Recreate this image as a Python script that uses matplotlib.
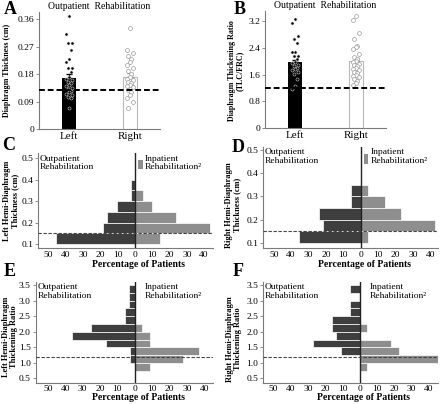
import numpy as np
import matplotlib
matplotlib.use("Agg")
import matplotlib.pyplot as plt
from matplotlib.patches import Rectangle

plt.rcParams['font.family'] = ['Liberation Serif', 'DejaVu Serif']

# ---- panel A / B: bar + points (outpatient) ----
sides = ["Left", "Right"]

a_left_pts = [0.37, 0.31, 0.28, 0.28, 0.26, 0.23, 0.22, 0.20, 0.20, 0.185,
              0.17, 0.165, 0.16, 0.155, 0.15, 0.145, 0.14, 0.135, 0.13, 0.125,
              0.12, 0.115, 0.11, 0.105, 0.10, 0.07]
a_right_pts = [0.33, 0.26, 0.25, 0.24, 0.23, 0.22, 0.21, 0.20, 0.19, 0.18,
               0.17, 0.165, 0.16, 0.155, 0.15, 0.145, 0.14, 0.138, 0.128, 0.12,
               0.11, 0.103, 0.09, 0.07]
a_means = [0.167, 0.170]
a_sem = [0.012, 0.012]
a_cutoff = 0.128

b_left_pts = [3.24, 3.14, 2.75, 2.65, 2.55, 2.26, 2.26, 2.16, 2.16, 2.06,
              1.98, 1.93, 1.88, 1.84, 1.80, 1.76, 1.72, 1.68, 1.62, 1.46,
              1.26, 1.16]
b_right_pts = [3.35, 3.22, 2.84, 2.65, 2.46, 2.41, 2.35, 2.22, 2.13, 2.05,
               2.00, 1.96, 1.92, 1.88, 1.84, 1.80, 1.76, 1.72, 1.68, 1.64,
               1.60, 1.56, 1.52, 1.48, 1.42, 1.36, 1.28]
b_means = [1.96, 2.00]
b_sem = [0.08, 0.08]
b_cutoff = 1.19

# ---- panel C / D: thickness histograms (% of patients) ----
thick_bins = [0.125, 0.175, 0.225, 0.275, 0.325, 0.375]
c_out = [46.0, 18.8, 16.3, 10.6, 2.5, 2.5]
c_in = [14.4, 43.3, 24.0, 9.6, 4.8, 0.0]
d_out = [35.4, 21.6, 24.1, 5.4, 5.4, 0.0]
d_in = [4.4, 42.5, 23.4, 13.8, 4.4, 0.0]
thick_cutoff = 0.15

# ---- panel E / F: thickening ratio histograms ----
ratio_bins = [0.875, 1.125, 1.375, 1.625, 1.875, 2.125, 2.375, 2.625, 2.875, 3.125, 3.375]
e_out = [0.0, 2.8, 2.8, 16.5, 36.0, 24.9, 5.9, 5.9, 3.3, 3.3, 3.3]
e_in = [8.8, 27.6, 37.1, 8.8, 8.8, 4.4, 0.0, 0.0, 0.0, 0.0, 0.0]
f_out = [0.0, 0.0, 10.8, 27.1, 13.7, 16.3, 16.3, 5.4, 5.4, 0.0, 5.4]
f_in = [4.2, 45.3, 22.6, 18.3, 0.0, 4.2, 0.0, 0.0, 0.0, 0.0, 0.0]
ratio_cutoff = 1.2

pct_ticks = [-50, -40, -30, -20, -10, 0, 10, 20, 30, 40]

W, H = 440, 404
fig = plt.figure(figsize=(W / 100, H / 100), dpi=100)

DARK = "#3e3e3e"
GREY = "#8e8e8e"
SPINE = "#7a7a7a"


def px_axes(left, top, right, bottom):
    return fig.add_axes([left / W, 1 - bottom / H, (right - left) / W, (bottom - top) / H])


def style_spines(ax):
    for s in ["top", "right"]:
        ax.spines[s].set_visible(False)
    for s in ["left", "bottom"]:
        ax.spines[s].set_color(SPINE)
        ax.spines[s].set_linewidth(0.8)
    ax.tick_params(axis="y", length=2, width=0.6, color=SPINE, labelsize=6.8, pad=1.5)


def swarm_offsets(n):
    pattern = [0.0, -0.05, 0.05, -0.025, 0.025]
    return np.array([pattern[i % len(pattern)] for i in range(n)])


def bar_panel(ax, left_pts, right_pts, means, sem, cutoff, ylim, yticks, yticklabels):
    ax.bar([0], [means[0]], width=0.235, color="black", zorder=1)
    ax.bar([1], [means[1]], width=0.235, color="white", edgecolor="#b8b8b8", linewidth=0.8, zorder=1)
    ax.errorbar([0], [means[0]], yerr=[[0], [sem[0]]], fmt="none", ecolor="black", elinewidth=0.7, capsize=2, zorder=2)
    ax.errorbar([1], [means[1]], yerr=[[0], [sem[1]]], fmt="none", ecolor="#808080", elinewidth=0.7, capsize=2, zorder=2)
    ax.plot(0 + swarm_offsets(len(left_pts)), left_pts, "o", ms=2.2, mfc="black", mec="#d0d0d0", mew=0.4, zorder=3)
    ax.plot(1 + swarm_offsets(len(right_pts)), right_pts, "o", ms=2.8, mfc="white", mec="#9a9a9a", mew=0.5, zorder=3)
    ax.axhline(cutoff, color="black", lw=1.4, ls=(0, (3, 1.5)), zorder=4)
    ax.set_xlim(-0.5, 1.5)
    ax.set_ylim(*ylim)
    ax.set_yticks(yticks)
    ax.set_yticklabels(yticklabels)
    ax.set_xticks([0, 1])
    ax.set_xticklabels(sides, fontsize=8)
    style_spines(ax)
    ax.tick_params(axis="x", length=0, pad=2)
    ax.set_title("Outpatient  Rehabilitation", fontsize=7, pad=2)


def hist_panel(ax, bins, out_pct, in_pct, height, cutoff, xlim, ylim, yticks, yticklabels, patch, xlab_y):
    ax.barh(bins, [-v for v in out_pct], height=height, color=DARK, edgecolor="white", linewidth=0.5, zorder=2)
    ax.barh(bins, in_pct, height=height, color=GREY, edgecolor="white", linewidth=0.5, zorder=2)
    ax.axvline(0, color="#222222", lw=1.0, zorder=3)
    ax.axhline(cutoff, color="#444444", lw=0.8, ls=(0, (3, 1.5)), zorder=4)
    ax.set_xlim(*xlim)
    ax.set_ylim(*ylim)
    ax.set_xticks(pct_ticks)
    ax.set_xticklabels([str(abs(t)) for t in pct_ticks])
    ax.set_yticks(yticks)
    ax.set_yticklabels(yticklabels)
    style_spines(ax)
    ax.tick_params(axis="x", length=0, labelsize=6.8, pad=2)
    ax.text(0.01, 0.985, "Outpatient\nRehabilitation", transform=ax.transAxes, ha="left", va="top",
            fontsize=6.8, linespacing=1.05)
    x0 = (0 - xlim[0]) / (xlim[1] - xlim[0])
    ax.text(x0 + 0.058, 0.985, "Inpatient\nRehabilitation\u00b2", transform=ax.transAxes, ha="left", va="top",
            fontsize=6.8, linespacing=1.05)
    if patch:
        ax.add_patch(Rectangle((x0 + 0.017, 0.83), 0.027, 0.095, transform=ax.transAxes,
                               facecolor=GREY, edgecolor="none", zorder=5))
    ax.set_xlabel("Percentage of Patients", fontsize=7, fontweight="bold")
    ax.xaxis.set_label_coords(x0 + 0.02, xlab_y)


# A
axA = px_axes(39, 12, 160, 129)
bar_panel(axA, a_left_pts, a_right_pts, a_means, a_sem, a_cutoff, (0, 0.383),
          [0, 0.09, 0.18, 0.27, 0.36], ["0", "0.09", "0.18", "0.27", "0.36"])
# B
axB = px_axes(265, 11, 386, 128.3)
bar_panel(axB, b_left_pts, b_right_pts, b_means, b_sem, b_cutoff, (0, 3.49),
          [0, 0.8, 1.6, 2.4, 3.2], ["0", "0.8", "1.6", "2.4", "3.2"])

thick_ticks = [0.1, 0.2, 0.3, 0.4, 0.5]
ratio_ticks = [0.5, 1.0, 1.5, 2.0, 2.5, 3.0, 3.5]

# C
axC = px_axes(38.3, 153.3, 212.7, 248.3)
hist_panel(axC, thick_bins, c_out, c_in, 0.05, thick_cutoff, (-56, 45), (0.081, 0.523),
           thick_ticks, [str(t) for t in thick_ticks], True, -0.125)
# D
axD = px_axes(263.3, 146.7, 438, 248.3)
hist_panel(axD, thick_bins, d_out, d_in, 0.05, thick_cutoff, (-56, 44.5), (0.076, 0.514),
           thick_ticks, [str(t) for t in thick_ticks], True, -0.118)
# E
axE = px_axes(35.7, 281.7, 213, 382.7)
hist_panel(axE, ratio_bins, e_out, e_in, 0.25, ratio_cutoff, (-57, 45), (0.36, 3.61),
           ratio_ticks, ["%.1f" % t for t in ratio_ticks], False, -0.105)
# F
axF = px_axes(263.3, 281.7, 438, 382.7)
hist_panel(axF, ratio_bins, f_out, f_in, 0.25, ratio_cutoff, (-56, 45.5), (0.36, 3.61),
           ratio_ticks, ["%.1f" % t for t in ratio_ticks], False, -0.105)


def ftext(x, y, s, **kw):
    fig.text(x / W, 1 - y / H, s, **kw)


# y labels
ylab = dict(rotation=90, ha="center", va="center", fontweight="bold", linespacing=1.0)
ftext(7, 70, "Diaphragm Thickness (cm)", fontsize=5.8, **ylab)
ftext(236, 71, "Diaphragm Thickening Ratio\n(TLC/FRC)", fontsize=5.8, **ylab)
ftext(11, 201, "Left Hemi-Diaphragm\nThickness (cm)", fontsize=6, **ylab)
ftext(233, 205, "Right Hemi-Diaphragm\nThickness (cm)", fontsize=6, **ylab)
ftext(10, 337, "Left Hemi-Diaphragm\nThickening Ratio", fontsize=6, **ylab)
ftext(234, 339, "Right Hemi-Diaphragm\nThickening Ratio", fontsize=6, **ylab)

# panel letters
let = dict(ha="center", va="center", fontsize=13, fontweight="bold")
ftext(10, 10, "A", **let)
ftext(240, 9, "B", **let)
ftext(9, 145, "C", **let)
ftext(238, 147, "D", **let)
ftext(10, 272, "E", **let)
ftext(238, 272, "F", **let)

fig.savefig("out.png", dpi=100)
